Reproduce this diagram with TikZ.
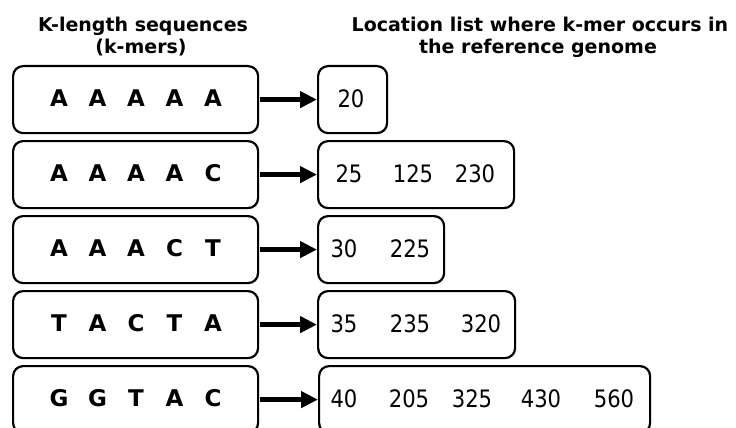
\documentclass[tikz,border=0pt]{standalone}
\usepackage{fontspec}
\setmainfont{DejaVu Sans}
\newfontfamily\numfont[FakeStretch=0.88]{DejaVu Sans}
\usetikzlibrary{arrows.meta}
\begin{document}
\begin{tikzpicture}[x=1pt,y=-1pt,
  rbox/.style={draw, line width=2.2pt, rounded corners=10pt, minimum height=67pt, anchor=north west, inner sep=0pt},
  kmer/.style={font=\fontsize{23}{26}\selectfont\bfseries, inner sep=0pt},
  num/.style={font=\numfont\fontsize{24}{28}\selectfont, inner sep=0pt},
  ttl/.style={font=\fontsize{19}{22}\selectfont\bfseries, inner sep=0pt, anchor=base},
  arr/.style={line width=5pt, -{Triangle[length=17pt,width=16pt]}, shorten <=1pt}]
\useasboundingbox (0,0) rectangle (736,428);
% titles
\node[ttl] (t1a) at (143,32) {K-length sequences};
\node[ttl] (t1b) at (141,53.5) {(k-mers)};
\node[ttl] (t2a) at (540,32) {Location list where k-mer occurs in};
\node[ttl] (t2b) at (538,53.5) {the reference genome};
% left boxes
\node[rbox, minimum width=245pt] (k1) at (12,65) {};
\node[rbox, minimum width=245pt] (k2) at (12,140) {};
\node[rbox, minimum width=245pt] (k3) at (12,215) {};
\node[rbox, minimum width=245pt] (k4) at (12,290) {};
\node[rbox, minimum width=245pt] (k5) at (12,365) {};
% right boxes
\node[rbox, minimum width=69pt] (l1) at (317,65) {};
\node[rbox, minimum width=196pt] (l2) at (317,140) {};
\node[rbox, minimum width=126pt] (l3) at (317,215) {};
\node[rbox, minimum width=197pt] (l4) at (317,290) {};
\node[rbox, minimum width=331pt] (l5) at (318,365) {};
% arrows
\draw[arr] (k1.east) -- (l1.west);
\draw[arr] (k2.east) -- (l2.west);
\draw[arr] (k3.east) -- (l3.west);
\draw[arr] (k4.east) -- (l4.west);
\draw[arr] (k5.east) -- (l5.west);
% k-mer letters
\node[kmer] (a11) at (59,98.5) {A};
\node[kmer] (a12) at (97.5,98.5) {A};
\node[kmer] (a13) at (136,98.5) {A};
\node[kmer] (a14) at (174.5,98.5) {A};
\node[kmer] (a15) at (213,98.5) {A};
\node[kmer] (a21) at (59,173.5) {A};
\node[kmer] (a22) at (97.5,173.5) {A};
\node[kmer] (a23) at (136,173.5) {A};
\node[kmer] (a24) at (174.5,173.5) {A};
\node[kmer] (a25) at (213,173.5) {C};
\node[kmer] (a31) at (59,248.5) {A};
\node[kmer] (a32) at (97.5,248.5) {A};
\node[kmer] (a33) at (136,248.5) {A};
\node[kmer] (a34) at (174.5,248.5) {C};
\node[kmer] (a35) at (213,248.5) {T};
\node[kmer] (a41) at (59,323.5) {T};
\node[kmer] (a42) at (97.5,323.5) {A};
\node[kmer] (a43) at (136,323.5) {C};
\node[kmer] (a44) at (174.5,323.5) {T};
\node[kmer] (a45) at (213,323.5) {A};
\node[kmer] (a51) at (59,398.5) {G};
\node[kmer] (a52) at (97.5,398.5) {G};
\node[kmer] (a53) at (136,398.5) {T};
\node[kmer] (a54) at (174.5,398.5) {A};
\node[kmer] (a55) at (213,398.5) {C};
% locations
\node[num] (n11) at (351,98.5) {20};
\node[num] (n21) at (349,173.5) {25};
\node[num] (n22) at (413,173.5) {125};
\node[num] (n23) at (475,173.5) {230};
\node[num] (n31) at (344,248.5) {30};
\node[num] (n32) at (410,248.5) {225};
\node[num] (n41) at (344,323.5) {35};
\node[num] (n42) at (410,323.5) {235};
\node[num] (n43) at (481,323.5) {320};
\node[num] (n51) at (344,398.5) {40};
\node[num] (n52) at (409,398.5) {205};
\node[num] (n53) at (472,398.5) {325};
\node[num] (n54) at (541,398.5) {430};
\node[num] (n55) at (614,398.5) {560};
\end{tikzpicture}
\end{document}
